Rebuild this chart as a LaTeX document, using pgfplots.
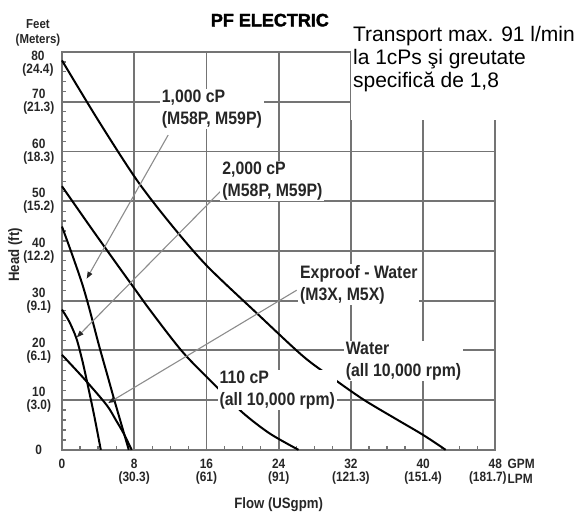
\documentclass[border=0pt]{standalone}
\usepackage{fontspec}
\setmainfont{Liberation Sans}
\newfontfamily\cf{Liberation Sans}[FakeStretch=0.88]
\newfontfamily\heavy{Liberation Sans}[FakeBold=2]
\usepackage{pgfplots}
\pgfplotsset{compat=1.18}
\usetikzlibrary{arrows.meta}
\definecolor{gridc}{HTML}{747474}
\definecolor{leadc}{HTML}{8C8C8C}
\newcommand{\tl}{\cf\bfseries\fontsize{13.5}{13}\selectfont}
\newcommand{\al}{\cf\bfseries\fontsize{18}{22}\selectfont}
\begin{document}
\begin{tikzpicture}
\begin{axis}[
  name=ax, scale only axis, width=433.5pt, height=398pt,
  xmin=0, xmax=48, ymin=0, ymax=80,
  xtick={0,8,...,48}, ytick={0,10,...,80},
  minor x tick num=3, minor y tick num=4,
  xticklabels={0,{8\\(30.3)},{16\\(61)},{24\\(91)},{32\\(121.3)},{40\\(151.4)},{48\\(181.7)\rule{15pt}{0pt}}},
  yticklabels={0,{10\\(3.0)},{20\\(6.1)},{30\\(9.1)},{40\\(12.2)},{50\\(15.2)},{60\\(18.3)},{70\\(21.3)},{}},
  xticklabel style={font=\tl, align=center, anchor=north, inner sep=0pt, yshift=-9pt, text=black!85},
  yticklabel style={font=\tl, align=center, text width=32pt, anchor=east, inner sep=0pt, xshift=-7pt, text=black!85},
  axis on top=false,
  xmajorgrids=true, ymajorgrids=true,
  grid style={draw=gridc, line width=1.8pt},
  axis line style={draw=gridc, line width=1.8pt},
  minor tick length=4pt, major tick length=4pt,
  tick align=inside, xtick pos=bottom, ytick pos=left,
  every tick/.style={draw=gridc, line width=1.2pt},
  clip=false,
  xlabel={Flow (USgpm)}, ylabel={Head (ft)},
  xlabel style={font=\cf\bfseries\fontsize{15}{15}\selectfont, at={(axis description cs:0.5,-0.138)}, anchor=center, inner sep=0pt, text=black!85},
  ylabel style={font=\cf\bfseries\fontsize{15}{15}\selectfont, at={(axis description cs:-0.108,0.49)}, anchor=center, inner sep=0pt, text=black!85},
]
% Water
\addplot[black, line width=2pt, smooth] coordinates {(0,78.3) (4,66.3) (8.27,54.3) (12,45.5) (16,37.1) (21.56,27.5) (26.72,18.8) (30,14.4) (33.4,10.1) (37,6.2) (40,3.0) (42.5,0)};
% 110 cP
\addplot[black, line width=2pt, smooth] coordinates {(0,53) (3,45.2) (5.7,38.3) (8,32.5) (10,27.5) (13.4,19.6) (17,12.9) (20,7.5) (23,3.3) (26.2,0)};
% 1,000 cP
\addplot[black, line width=2pt, smooth] coordinates {(0,44.9) (1.1,39.4) (2.2,33.6) (3.0,28.6) (4.1,21) (5.0,15.2) (5.8,10) (6.6,5) (7.4,0)};
% 2,000 cP
\addplot[black, line width=2pt, smooth] coordinates {(0,28.2) (0.8,25.8) (1.6,22.4) (2.3,17.6) (3.0,11.8) (3.6,6.6) (4.3,0)};
% Exproof - Water
\addplot[black, line width=2pt, smooth] coordinates {(0,19.1) (2.55,14.1) (4.95,9.0) (6.0,5.9) (6.8,3.4) (7.72,0)};
% leaders
\draw[leadc, line width=1.1pt, -{Triangle[length=7pt,width=5pt,color=black!85]}] (axis cs:11.76,63.3) -- (axis cs:2.73,34.4);
\draw[leadc, line width=1.1pt, -{Triangle[length=7pt,width=5pt,color=black!85]}] (axis cs:17.84,52.5) -- (axis cs:1.63,22.6);
\draw[leadc, line width=1.1pt, -{Triangle[length=7pt,width=5pt,color=black!85]}] (axis cs:26.0,32.1) -- (axis cs:5.12,9.4);
% labels
\node[font=\al, align=left, anchor=west, fill=white, inner xsep=2pt, inner ysep=1pt, xshift=-2pt, text=black!85] at (axis cs:11.04,68.6) {1,000 cP\\(M58P, M59P)};
\node[font=\al, align=left, anchor=west, fill=white, inner xsep=2pt, inner ysep=1pt, xshift=-2pt, text=black!85] at (axis cs:17.75,54.1) {2,000 cP\\(M58P, M59P)};
\node[font=\al, align=left, anchor=west, fill=white, inner xsep=2pt, inner ysep=1pt, xshift=-2pt, text=black!85] at (axis cs:26.36,33.2) {Exproof - Water\\(M3X, M5X)};
\node[font=\al, align=left, anchor=west, fill=white, inner xsep=2pt, inner ysep=1pt, xshift=-2pt, text=black!85] at (axis cs:31.42,17.9) {Water\\(all 10,000 rpm)};
\node[font=\al, align=left, anchor=west, fill=white, inner xsep=2pt, inner ysep=1pt, xshift=-2pt, text=black!85] at (axis cs:17.44,12.0) {110 cP\\(all 10,000 rpm)};
% white box and note
\node[fill=white, inner sep=0pt, minimum width=230pt, minimum height=70pt, anchor=south west] at (axis cs:32,66.3) {};
\node[font=\fontsize{21}{23}\selectfont, align=left, anchor=north west, inner sep=0pt] at (axis cs:32.23,85.2) {Transport max. 91 l/min\\la 1cPs şi greutate\\specifică de 1,8};
% title
\node[font=\heavy\bfseries\fontsize{18}{20}\selectfont, inner sep=0pt] at (axis cs:23.03,86.4) {PF ELECTRIC};
% axis unit captions
\node[font=\cf\bfseries\fontsize{13}{15}\selectfont, align=center, inner sep=0pt, text=black!85] at (axis cs:-2.66,83.9) {Feet\\(Meters)};
\node[font=\tl, align=center, inner sep=0pt, text=black!85] at (axis cs:-2.66,77.6) {80\\(24.4)};
\node[font=\tl, anchor=west, inner sep=0pt, text=black!85] at (axis cs:49.35,-2.8) {GPM};
\node[font=\tl, anchor=west, inner sep=0pt, text=black!85] at (axis cs:49.35,-5.83) {LPM};
\end{axis}
\path ([shift={(-62pt,-62pt)}]ax.south west) rectangle ([shift={(85.5pt,52pt)}]ax.north east);
\end{tikzpicture}
\end{document}
